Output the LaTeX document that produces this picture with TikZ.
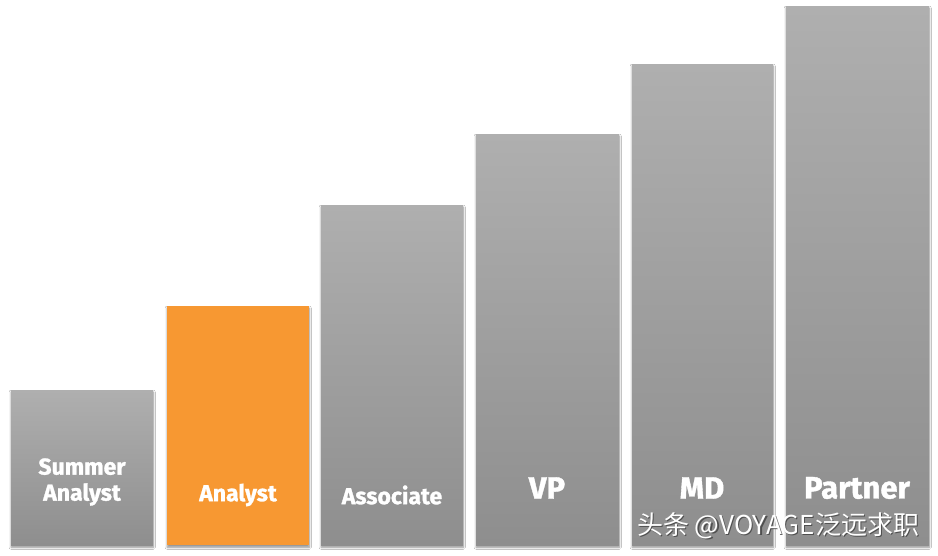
\documentclass[tikz,border=0pt]{standalone}
\usepackage{fontspec}
\setmainfont{Fira Sans}[BoldFeatures={FakeBold=1.2}]
\newfontfamily\cjk{Noto Sans CJK SC}
\usetikzlibrary{shadows.blur}
\definecolor{bartop}{HTML}{AFAFAF}
\definecolor{barbot}{HTML}{8E8E8E}
\definecolor{orangebar}{HTML}{F79832}
\tikzset{
  bar/.style={rectangle, inner sep=0pt, top color=bartop, bottom color=barbot,
    blur shadow={shadow xshift=0pt, shadow yshift=-2pt, shadow blur steps=6, shadow opacity=45}},
  obar/.style={rectangle, inner sep=0pt, fill=orangebar,
    blur shadow={shadow xshift=0pt, shadow yshift=-2pt, shadow blur steps=6, shadow opacity=45}},
  lbl/.style={text=white, font=\bfseries\fontsize{23}{26}\selectfont, align=center, inner sep=0pt},
  biglbl/.style={text=white, font=\bfseries\fontsize{31}{34}\selectfont, inner sep=0pt},
  wmk/.style={font=\cjk\fontsize{26}{28}\selectfont, inner sep=0pt},
}
\begin{document}
\begin{tikzpicture}[x=1pt,y=-1pt]
\useasboundingbox (0,0) rectangle (938,556);
\fill[white] (0,0) rectangle (938,556);
\node[bar, minimum width=142pt, minimum height=155pt, anchor=north west] (b1) at (11,390) {};
\node[obar, minimum width=142pt, minimum height=239pt, anchor=north west] (b2) at (167,306) {};
\node[bar, minimum width=142pt, minimum height=340pt, anchor=north west] (b3) at (321,205) {};
\node[bar, minimum width=143pt, minimum height=411pt, anchor=north west] (b4) at (476,134) {};
\node[bar, minimum width=141pt, minimum height=481pt, anchor=north west] (b5) at (632,64) {};
\node[bar, minimum width=143pt, minimum height=539pt, anchor=north west] (b6) at (786,6) {};
\node[lbl] (t1) at (82,482) {Summer\\Analyst};
\node[lbl] (t2) at (238,495) {Analyst};
\node[lbl] (t3) at (392,495) {Associate};
\node[biglbl] (t4) at (547,488) {VP};
\node[biglbl] (t5) at (702,488) {MD};
\node[biglbl] (t6) at (857,488) {Partner};
\node[wmk, text=black!75, opacity=0.8] at (779.2,527.2) {头条 @VOYAGE泛远求职};
\node[wmk, text=white] (wm) at (778,526) {头条 @VOYAGE泛远求职};
\end{tikzpicture}
\end{document}
